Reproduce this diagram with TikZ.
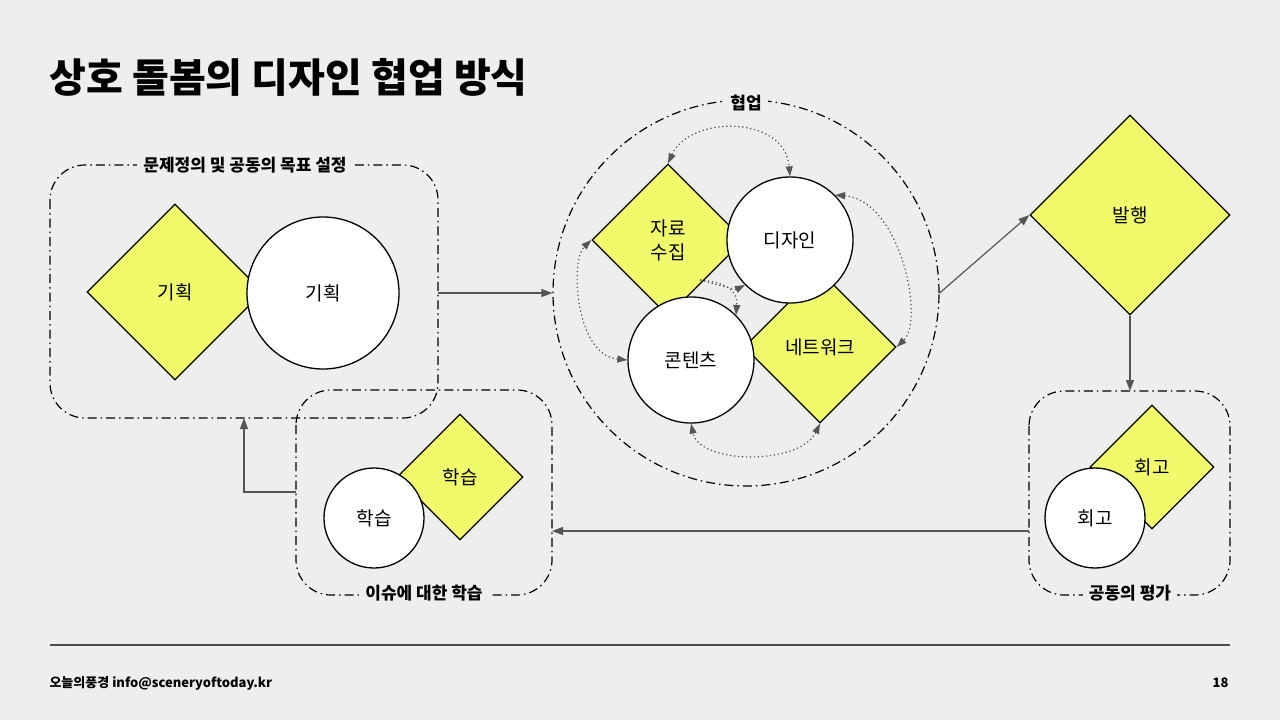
\documentclass[tikz,border=0pt]{standalone}
\usepackage{fontspec}
\setmainfont{Noto Sans CJK KR}
\usetikzlibrary{shapes.geometric,arrows.meta}
\definecolor{bg}{HTML}{EEEEEE}
\definecolor{yel}{HTML}{F0FA6A}
\definecolor{ar}{HTML}{555555}
\tikzset{
 dia/.style={diamond,draw=black,fill=yel,line width=1.3pt,minimum width=#1,minimum height=#1,inner sep=0pt,align=center,font=\fontsize{19}{24}\selectfont},
 circ/.style={circle,draw=black,fill=white,line width=1.3pt,minimum size=#1,inner sep=0pt,align=center,font=\fontsize{19}{24}\selectfont},
 dd/.style={dash pattern=on 9pt off 4pt on 1.5pt off 4pt,line width=1.2pt},
 grp/.style={draw=black,dd,rounded corners=35pt},
 glabel/.style={fill=bg,font=\bfseries\fontsize{17}{20}\selectfont,inner xsep=6pt},
 arr/.style={draw=ar,line width=1.2pt,-{Triangle[length=11pt,width=8pt]}},
 dot/.style={draw=ar,dash pattern=on 1.3pt off 2.7pt,line width=1.2pt,{Triangle[length=10pt,width=7pt,fill=ar]}-{Triangle[length=10pt,width=7pt,fill=ar]}},
 doto/.style={draw=ar,dash pattern=on 1.3pt off 2.7pt,line width=1.2pt,-{Triangle[length=10pt,width=7pt,fill=ar]}},
}
\begin{document}
\begin{tikzpicture}[x=1pt,y=-1pt]
\fill[bg] (0,0) rectangle (1280,720);
\useasboundingbox (0,0) rectangle (1280,720);
\node[anchor=west,font=\bfseries\fontsize{40}{44}\selectfont] (title) at (46,77) {상호 돌봄의 디자인 협업 방식};
% group 1
\draw[grp] (50,165) rectangle (438,418);
\node[glabel] (g1l) at (245,165) {문제정의 및 공동의 목표 설정};
\node[dia=176pt] (d1) at (175,292) {기획};
\node[circ=152pt] (c1) at (323,293) {기획};
% group 2
\draw[grp] (296,390) rectangle (552,595);
\node[glabel] (g2l) at (424,593) {이슈에 대한 학습};
\node[dia=126pt] (d2) at (460,477) {학습};
\node[circ=100pt] (c2) at (374,518) {학습};
% group 3
\draw[grp] (1029,391) rectangle (1230,595);
\node[glabel] (g3l) at (1130,593) {공동의 평가};
\node[dia=124pt] (d3) at (1152,467) {회고};
\node[circ=100pt] (c3) at (1095,518) {회고};
% collaboration
\node[circle,draw=black,dd,minimum size=386pt] (big) at (746,293) {};
\node[glabel] (bl) at (746,103) {협업};
\node[dia=152pt] (ja) at (668,240) {자료\\수집};
\node[dia=152pt] (ne) at (820,347) {네트워크};
\node[circ=126pt] (de) at (790,240) {디자인};
\node[circ=126pt] (co) at (691,360) {콘텐츠};
\draw[dot] (ja.north) .. controls (690,115) and (785,115) .. (de.north);
\draw[dot] (de.45) .. controls (900,200) and (925,320) .. (ne.east);
\draw[dot] (ne.south) .. controls (800,465) and (700,465) .. (co.south);
\draw[dot] (co.west) .. controls (575,355) and (570,260) .. (ja.west);
\coordinate (src) at (700,280);
\draw[doto] (src) .. controls (720,285) and (735,290) .. (de.225);
\draw[doto] (src) .. controls (725,282) and (738,290) .. (co.45);
% publish
\node[dia=200pt] (pub) at (1130,215) {발행};
% arrows
\draw[arr] (438,293) -- (big.west);
\draw[arr] (big.east) -- (pub.west);
\draw[arr] (pub.south) -- (1130,391);
\draw[arr] (1029,531) -- (552,531);
\draw[arr] (296,492) -| (244,418);
% footer
\draw[draw=black!70,line width=1.2pt] (50,645) -- (1230,645);
\node[anchor=west,font=\bfseries\fontsize{13}{16}\selectfont] (ft) at (46,683) {오늘의풍경 info@sceneryoftoday.kr};
\node[anchor=east,font=\bfseries\fontsize{13}{16}\selectfont] (pg) at (1232,683) {18};
\end{tikzpicture}
\end{document}
